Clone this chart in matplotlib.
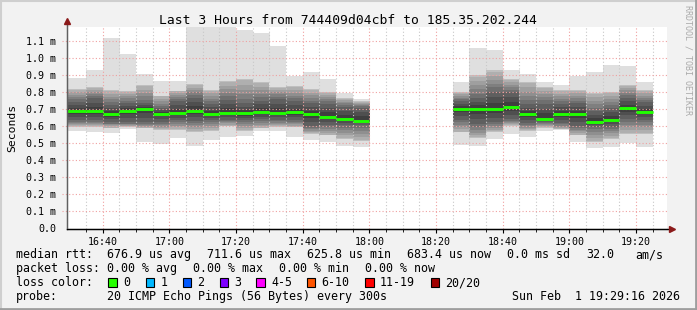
#!/usr/bin/env python3
import numpy as np
import matplotlib
matplotlib.use("Agg")
import matplotlib.pyplot as plt
from matplotlib.patches import Rectangle

# time axis in minutes of the day
t_start = 16 * 60 + 29 + 16 / 60.0   # 16:29:16
t_end = t_start + 180                 # 19:29:16

# 5 minute steps, start times of each step
left_start = [16 * 60 + 30 + 5 * i for i in range(18)]    # 16:30 .. 17:55
right_start = [18 * 60 + 25 + 5 * i for i in range(12)]   # 18:25 .. 19:20

# smoke per step (ms): min, lower band, lower core, median, upper core, upper band, max
left_max = [0.884, 0.929, 1.118, 1.024, 0.906, 0.865, 0.865, 1.20, 1.20, 1.20,
            1.165, 1.147, 1.070, 0.894, 0.919, 0.878, 0.794, 0.759]
left_hi = [0.820, 0.830, 0.810, 0.810, 0.840, 0.780, 0.810, 0.847, 0.816, 0.867,
           0.880, 0.857, 0.831, 0.835, 0.820, 0.800, 0.763, 0.747]
left_q3 = [0.750, 0.770, 0.730, 0.740, 0.740, 0.710, 0.753, 0.773, 0.737, 0.760,
           0.743, 0.753, 0.763, 0.753, 0.740, 0.737, 0.718, 0.710]
left_med = [0.694, 0.692, 0.671, 0.694, 0.702, 0.675, 0.678, 0.694, 0.673, 0.682,
            0.678, 0.688, 0.678, 0.684, 0.671, 0.657, 0.645, 0.635]
left_q1 = [0.635, 0.635, 0.620, 0.620, 0.620, 0.620, 0.635, 0.625, 0.635, 0.635,
           0.635, 0.635, 0.635, 0.635, 0.600, 0.606, 0.606, 0.606]
left_lo = [0.600, 0.600, 0.590, 0.600, 0.590, 0.580, 0.580, 0.567, 0.576, 0.600,
           0.576, 0.586, 0.596, 0.596, 0.557, 0.547, 0.530, 0.510]
left_min = [0.576, 0.570, 0.560, 0.586, 0.508, 0.498, 0.533, 0.484, 0.522, 0.537,
            0.547, 0.571, 0.572, 0.541, 0.522, 0.508, 0.488, 0.478]

right_max = [0.859, 1.059, 1.047, 0.924, 0.906, 0.859, 0.841, 0.896, 0.920, 0.959, 0.953, 0.859]
right_hi = [0.800, 0.900, 0.929, 0.871, 0.861, 0.830, 0.810, 0.816, 0.800, 0.800, 0.841, 0.810]
right_q3 = [0.753, 0.773, 0.810, 0.800, 0.737, 0.737, 0.737, 0.740, 0.694, 0.714, 0.773, 0.743]
right_med = [0.704, 0.702, 0.704, 0.712, 0.671, 0.647, 0.672, 0.671, 0.629, 0.639, 0.708, 0.684]
right_q1 = [0.635, 0.606, 0.620, 0.635, 0.616, 0.625, 0.616, 0.596, 0.596, 0.596, 0.635, 0.635]
right_lo = [0.567, 0.530, 0.567, 0.600, 0.576, 0.590, 0.586, 0.547, 0.510, 0.530, 0.557, 0.557]
right_min = [0.494, 0.486, 0.527, 0.553, 0.541, 0.572, 0.580, 0.508, 0.473, 0.482, 0.502, 0.478]

loss_labels = ["0", "1", "2", "3", "4-5", "6-10", "11-19", "20/20"]
loss_colors = ["#26ff00", "#00b8ff", "#0059ff", "#7e00ff", "#ff00ff", "#ff5500", "#ff0000", "#a00000"]
loss_x = [108, 145.5, 182.5, 219.5, 256, 306.5, 365, 430.5]

x_ticks = ["16:40", "17:00", "17:20", "17:40", "18:00", "18:20", "18:40", "19:00", "19:20"]
y_ticks = [0.0, 0.1, 0.2, 0.3, 0.4, 0.5, 0.6, 0.7, 0.8, 0.9, 1.0, 1.1]

BG = "#f2f2f2"
W, H = 697, 310
fig = plt.figure(figsize=(W / 100, H / 100), dpi=100, facecolor=BG)
ax = fig.add_axes([67 / W, 1 - 228.5 / H, 600 / W, 201.2 / H])
ax.set_facecolor("white")
ax.set_xlim(t_start, t_end)
ax.set_ylim(0, 1.1835)

MONO = "DejaVu Sans Mono"


def hm(s):
    h, m = s.split(":")
    return int(h) * 60 + int(m)


def smoke(starts, mn, lo, q1, med, q3, hi, mx):
    for i, s in enumerate(starts):
        x0 = max(s, t_start)
        if i == 0 and s - t_start < 5:
            x0 = t_start
        x1 = s + 5
        ys = np.linspace(mn[i], mx[i], 400)
        xp = [mn[i], lo[i], lo[i] + 1e-4, q1[i], med[i], q3[i], hi[i] - 1e-4, hi[i], mx[i]]
        fp = [0.87, 0.87, 0.74, 0.42, 0.22, 0.42, 0.74, 0.87, 0.87]
        g = np.interp(ys, xp, fp)
        g = np.round(g * 16) / 16
        img = np.repeat(g[:, None, None], 3, axis=2)
        ax.imshow(img, extent=[x0, x1, mn[i], mx[i]], origin="lower",
                  aspect="auto", interpolation="nearest", zorder=2)
        ax.hlines(med[i], x0, x1, colors="#20ff00", linewidth=2.1, zorder=5,
                  capstyle="butt")


smoke(left_start, left_min, left_lo, left_q1, left_med, left_q3, left_hi, left_max)
smoke(right_start, right_min, right_lo, right_q1, right_med, right_q3, right_hi, right_max)
ax.set_xlim(t_start, t_end)
ax.set_ylim(0, 1.1835)

# grid on top of the smoke
dot = (0, (1, 2))
for m in range(16 * 60 + 35, 19 * 60 + 30, 5):
    if m % 20 == 0:
        ax.axvline(m, color="#f0a0a0", lw=0.8, ls=dot, zorder=3)
    else:
        ax.axvline(m, color="#c8c8c8", lw=0.8, ls=dot, zorder=3)
for v in y_ticks[1:]:
    ax.hlines(v, -0.008, 1.0, transform=ax.get_yaxis_transform(), colors="#f0a0a0",
              lw=0.8, linestyles=dot, zorder=3, clip_on=False)

for sp in ["top", "right"]:
    ax.spines[sp].set_visible(False)
ax.spines["left"].set_color("#606060")
ax.spines["bottom"].set_color("black")
ax.spines["left"].set_zorder(6)
ax.spines["bottom"].set_zorder(6)
ax.spines["left"].set_bounds(0, 1.2)
ax.plot([0, 1.006], [0, 0], transform=ax.transAxes, color="black", lw=1, clip_on=False, zorder=6)
ax.plot([0, 0], [0, 1.03], transform=ax.transAxes, color="#606060", lw=1, clip_on=False, zorder=6)
ax.plot([1.008], [0], transform=ax.transAxes, marker=">", color="#8b1a1a", ms=4, clip_on=False, zorder=7)
ax.plot([0], [1.03], transform=ax.transAxes, marker="^", color="#8b1a1a", ms=4, clip_on=False, zorder=7)

ax.set_xticks([hm(s) for s in x_ticks])
ax.set_xticklabels(x_ticks, family=MONO, fontsize=7.2)
ax.set_xticks(list(range(16 * 60 + 35, 19 * 60 + 30, 5)), minor=True)
ax.tick_params(axis="x", which="major", length=3, pad=3, color="black")
ax.tick_params(axis="x", which="minor", length=2, color="black")
ax.set_yticks(y_ticks)
ax.set_yticklabels(["0.0"] + ["%.1f m" % v for v in y_ticks[1:]], family=MONO, fontsize=7.2)
ax.tick_params(axis="y", length=0, pad=8)
ax.set_ylabel("Seconds", family=MONO, fontsize=8.2, labelpad=6)


def txt(x, y, s, **kw):
    kw.setdefault("family", MONO)
    kw.setdefault("fontsize", 8.4)
    fig.text(x / W, 1 - y / H, s, va="baseline", **kw)


txt(348, 23.7, "Last 3 Hours from 744409d04cbf to 185.35.202.244", fontsize=9.4, ha="center")

row1 = 258.3
txt(16, row1, "median rtt:")
txt(107.3, row1, "676.9 us avg")
txt(207.3, row1, "711.6 us max")
txt(307.3, row1, "625.8 us min")
txt(407.3, row1, "683.4 us now")
txt(507.3, row1, "0.0 ms sd")
txt(586, row1, "32.0")
txt(635, row1, "am/s")

row2 = 272.3
txt(16, row2, "packet loss:")
txt(107.3, row2, "0.00 % avg")
txt(193.3, row2, "0.00 % max")
txt(279.3, row2, "0.00 % min")
txt(365, row2, "0.00 % now")

row3 = 286.3
txt(16, row3, "loss color:")
for lx, lab, col in zip(loss_x, loss_labels, loss_colors):
    fig.patches.append(Rectangle((lx / W, 1 - 286.7 / H), 8.5 / W, 8.5 / H,
                                 transform=fig.transFigure, facecolor=col,
                                 edgecolor="black", lw=0.8))
    txt(lx + 15, row3, lab)

row4 = 300.3
txt(16, row4, "probe:")
txt(107.3, row4, "20 ICMP Echo Pings (56 Bytes) every 300s")
txt(680, row4, "Sun Feb  1 19:29:16 2026", ha="right")

fig.text(688 / W, 1 - 5 / H, "RRDTOOL / TOBI OETIKER", rotation=270, family=MONO,
         fontsize=6, color="#aaaaaa", ha="center", va="top")

# figure border
fig.add_artist(plt.Line2D([0, 1], [1 - 1 / H, 1 - 1 / H], transform=fig.transFigure, color="#cfcfcf", lw=1.5))
fig.add_artist(plt.Line2D([1 / W, 1 / W], [0, 1], transform=fig.transFigure, color="#cfcfcf", lw=1.5))
fig.add_artist(plt.Line2D([0, 1], [1.2 / H, 1.2 / H], transform=fig.transFigure, color="#9e9e9e", lw=2))
fig.add_artist(plt.Line2D([1 - 1.2 / W, 1 - 1.2 / W], [0, 1], transform=fig.transFigure, color="#9e9e9e", lw=2))

fig.savefig("out.png", dpi=100, facecolor=BG)
